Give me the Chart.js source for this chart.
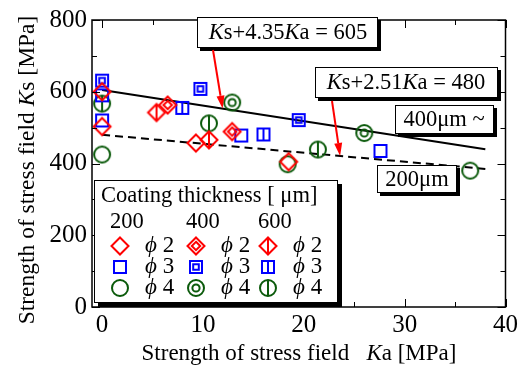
<!DOCTYPE html>
<html>
<head>
<meta charset="utf-8">
<script src="https://cdn.jsdelivr.net/npm/chart.js@4.4.1/dist/chart.umd.min.js"></script>
<style>
  body { margin: 0; background: #fff; }
  #wrap { width: 521px; height: 366px; }
</style>
</head>
<body>
<div id="wrap"><canvas id="myChart" width="521" height="366"></canvas></div>
<script>
// tick labels
var xTicks = [0, 10, 20, 30, 40];
var yTicks = [0, 200, 400, 600, 800];

// data: Ka (x), Ks (y) for each coating thickness / diameter
var t200_d2 = [{x: 0, y: 600}, {x: 0, y: 503}, {x: 9.3, y: 457}, {x: 18.5, y: 405}];
var t400_d2 = [{x: 6.5, y: 563}, {x: 12.9, y: 489}];
var t600_d2 = [{x: 5.4, y: 542}, {x: 10.6, y: 466}];
var t200_d3 = [{x: 0, y: 590}, {x: 0, y: 520}, {x: 13.8, y: 478}, {x: 27.6, y: 435}];
var t400_d3 = [{x: 0, y: 631}, {x: 9.75, y: 608}, {x: 19.5, y: 521}];
var t600_d3 = [{x: 7.95, y: 555}, {x: 16.0, y: 481}];
var t200_d4 = [{x: 0, y: 425}, {x: 18.4, y: 398}, {x: 36.5, y: 380}];
var t400_d4 = [{x: 12.9, y: 570}, {x: 26.0, y: 485}];
var t600_d4 = [{x: 0, y: 567}, {x: 10.6, y: 512}, {x: 21.4, y: 439}];

// fitted lines (end points)
var line400 = [{x: 0, y: 605}, {x: 38, y: 440}];
var line200 = [{x: 0, y: 480}, {x: 38, y: 385}];

var RED = '#ff0000', BLUE = '#0000ff', GREEN = '#0b5a0b';
var SERIF = '"Liberation Serif", "Times New Roman", serif';

// marker images
function makeMarker(shape, variant, color) {
  var c = document.createElement('canvas');
  c.width = 24; c.height = 24;
  var g = c.getContext('2d');
  g.strokeStyle = color;
  g.lineWidth = 2;
  var cx = 12, cy = 12;
  function outline(r) {
    g.beginPath();
    if (shape === 'diamond') {
      g.moveTo(cx, cy - r); g.lineTo(cx + r, cy); g.lineTo(cx, cy + r); g.lineTo(cx - r, cy); g.closePath();
    } else if (shape === 'square') {
      g.rect(cx - r, cy - r, 2 * r, 2 * r);
    } else {
      g.arc(cx, cy, r, 0, Math.PI * 2);
    }
    g.stroke();
  }
  var R = shape === 'diamond' ? 8.5 : (shape === 'square' ? 6 : 8);
  outline(R);
  if (variant === 'double') {
    outline(shape === 'diamond' ? 4.2 : (shape === 'square' ? 2.8 : 3.6));
  } else if (variant === 'bar') {
    g.beginPath(); g.moveTo(cx, cy - R); g.lineTo(cx, cy + R); g.stroke();
  }
  return c;
}

var mk = {
  t200_d2: makeMarker('diamond', 'plain', RED),
  t400_d2: makeMarker('diamond', 'double', RED),
  t600_d2: makeMarker('diamond', 'bar', RED),
  t200_d3: makeMarker('square', 'plain', BLUE),
  t400_d3: makeMarker('square', 'double', BLUE),
  t600_d3: makeMarker('square', 'bar', BLUE),
  t200_d4: makeMarker('circle', 'plain', GREEN),
  t400_d4: makeMarker('circle', 'double', GREEN),
  t600_d4: makeMarker('circle', 'bar', GREEN)
};

function pts(data, marker) {
  return { type: 'scatter', data: data, pointStyle: marker, pointRadius: 9, showLine: false, order: 1 };
}

// rich text: parts = [[text, italic], ...]
function richWidth(ctx, parts, size) {
  var w = 0;
  parts.forEach(function (p) {
    ctx.font = (p[1] ? 'italic ' : '') + size + 'px ' + SERIF;
    w += ctx.measureText(p[0]).width;
  });
  return w;
}
function drawRich(ctx, parts, x, y, size, align) {
  var w = richWidth(ctx, parts, size);
  var sx = align === 'center' ? x - w / 2 : x;
  ctx.textBaseline = 'middle';
  ctx.textAlign = 'left';
  parts.forEach(function (p) {
    ctx.font = (p[1] ? 'italic ' : '') + size + 'px ' + SERIF;
    ctx.fillText(p[0], sx, y);
    sx += ctx.measureText(p[0]).width;
  });
}
function shadowBox(ctx, x, y, w, h, sh) {
  ctx.fillStyle = '#000';
  ctx.fillRect(x + sh, y + sh, w, h);
  ctx.fillStyle = '#fff';
  ctx.fillRect(x, y, w, h);
  ctx.strokeStyle = '#000';
  ctx.lineWidth = 1;
  ctx.strokeRect(x + 0.5, y + 0.5, w - 1, h - 1);
}
function arrow(ctx, x1, y1, x2, y2) {
  var a = Math.atan2(y2 - y1, x2 - x1);
  var L = 13, W = 4;
  var bx = x2 - L * Math.cos(a), by = y2 - L * Math.sin(a);
  ctx.strokeStyle = RED; ctx.fillStyle = RED; ctx.lineWidth = 2;
  ctx.beginPath(); ctx.moveTo(x1, y1); ctx.lineTo(bx, by); ctx.stroke();
  ctx.beginPath();
  ctx.moveTo(x2, y2);
  ctx.lineTo(bx + W * Math.sin(a), by - W * Math.cos(a));
  ctx.lineTo(bx - W * Math.sin(a), by + W * Math.cos(a));
  ctx.closePath(); ctx.fill();
}

var PHI = '\u03d5';

var framePlugin = {
  id: 'frame',
  afterDatasetsDraw: function (chart) {
    var ctx = chart.ctx, a = chart.chartArea;
    var xs = chart.scales.x, ys = chart.scales.y;
    ctx.save();
    ctx.strokeStyle = '#000';
    ctx.lineWidth = 1.5;
    ctx.strokeRect(a.left, a.top, a.right - a.left, a.bottom - a.top);
    ctx.lineWidth = 1;
    ctx.beginPath();
    for (var v = 0; v <= 40; v += 5) {
      var px = Math.round(xs.getPixelForValue(v)) + 0.5;
      var len = v % 10 === 0 ? 8 : 5;
      ctx.moveTo(px, a.bottom); ctx.lineTo(px, a.bottom - len);
      ctx.moveTo(px, a.top); ctx.lineTo(px, a.top + len);
    }
    for (var w = 0; w <= 800; w += 100) {
      var py = Math.round(ys.getPixelForValue(w)) + 0.5;
      var l2 = w % 200 === 0 ? 8 : 5;
      ctx.moveTo(a.left, py); ctx.lineTo(a.left + l2, py);
      ctx.moveTo(a.right, py); ctx.lineTo(a.right - l2, py);
    }
    ctx.stroke();

    // annotation boxes
    shadowBox(ctx, 197, 17, 181, 31, 3);
    ctx.fillStyle = '#000';
    drawRich(ctx, [['K', true], ['s+4.35', false], ['K', true], ['a = 605', false]], 288, 33, 22.5, 'center');

    shadowBox(ctx, 315, 67, 183, 31, 3);
    ctx.fillStyle = '#000';
    drawRich(ctx, [['K', true], ['s+2.51', false], ['K', true], ['a = 480', false]], 406, 83, 22.5, 'center');

    shadowBox(ctx, 395, 105, 99, 29, 3);
    ctx.fillStyle = '#000';
    drawRich(ctx, [['400\u03bcm ~', false]], 444, 120, 22.5, 'center');

    shadowBox(ctx, 377, 165, 80, 28, 3);
    ctx.fillStyle = '#000';
    drawRich(ctx, [['200\u03bcm', false]], 417, 180, 22.5, 'center');

    // arrows to the fitted lines
    arrow(ctx, 213, 50, xs.getPixelForValue(11.95), ys.getPixelForValue(553));
    arrow(ctx, 332, 101, xs.getPixelForValue(23.6), ys.getPixelForValue(421));

    // legend
    shadowBox(ctx, 94, 180, 244, 123, 4);
    ctx.fillStyle = '#000';
    drawRich(ctx, [['Coating thickness [ \u03bcm]', false]], 101, 196, 22.5, 'left');
    var cols = [[110, '200', ['t200_d2', 't200_d3', 't200_d4']],
                [186, '400', ['t400_d2', 't400_d3', 't400_d4']],
                [258, '600', ['t600_d2', 't600_d3', 't600_d4']]];
    var rows = [246, 267, 288];
    cols.forEach(function (c) {
      ctx.fillStyle = '#000';
      drawRich(ctx, [[c[1], false]], c[0], 222, 22.5, 'left');
      c[2].forEach(function (k, i) {
        var img = mk[k];
        ctx.drawImage(img, c[0] + 10 - 12, rows[i] - 12);
        ctx.fillStyle = '#000';
        drawRich(ctx, [[PHI, true], [' ' + (i + 2), false]], c[0] + 35, rows[i], 23, 'left');
      });
    });

    // axis titles
    ctx.fillStyle = '#000';
    drawRich(ctx, [['Strength of stress field   ', false], ['K', true], ['a [MPa]', false]], 299, 354, 23, 'center');
    ctx.translate(28, 170);
    ctx.rotate(-Math.PI / 2);
    drawRich(ctx, [['Strength of stress field ', false], ['K', true], ['s [MPa]', false]], 0, 0, 23.5, 'center');
    ctx.restore();
  }
};

var ctx = document.getElementById('myChart').getContext('2d');
var chart = new Chart(ctx, {
  type: 'scatter',
  data: {
    datasets: [
      pts(t200_d2, mk.t200_d2), pts(t400_d2, mk.t400_d2), pts(t600_d2, mk.t600_d2),
      pts(t200_d3, mk.t200_d3), pts(t400_d3, mk.t400_d3), pts(t600_d3, mk.t600_d3),
      pts(t200_d4, mk.t200_d4), pts(t400_d4, mk.t400_d4), pts(t600_d4, mk.t600_d4),
      { type: 'line', data: line400, borderColor: '#000', borderWidth: 2, pointRadius: 0, order: 2 },
      { type: 'line', data: line200, borderColor: '#000', borderWidth: 2, borderDash: [8, 5], pointRadius: 0, order: 2 }
    ]
  },
  options: {
    responsive: false,
    animation: false,
    layout: { padding: { top: 15, right: 13, left: 0, bottom: 0 } },
    plugins: { legend: { display: false }, tooltip: { enabled: false } },
    scales: {
      x: {
        type: 'linear', min: -1, max: 40,
        grid: { display: false, drawTicks: false },
        border: { display: false },
        afterBuildTicks: function (s) { s.ticks = xTicks.map(function (v) { return { value: v }; }); },
        afterFit: function (s) { s.height = 59; },
        ticks: { color: '#000', padding: 3, font: { family: SERIF, size: 25 } }
      },
      y: {
        type: 'linear', min: 0, max: 800,
        grid: { display: false, drawTicks: false },
        border: { display: false },
        afterBuildTicks: function (s) { s.ticks = yTicks.map(function (v) { return { value: v }; }); },
        afterFit: function (s) { s.width = 92; },
        ticks: { color: '#000', padding: 5, font: { family: SERIF, size: 25 } }
      }
    }
  },
  plugins: [framePlugin]
});
</script>
</body>
</html>
